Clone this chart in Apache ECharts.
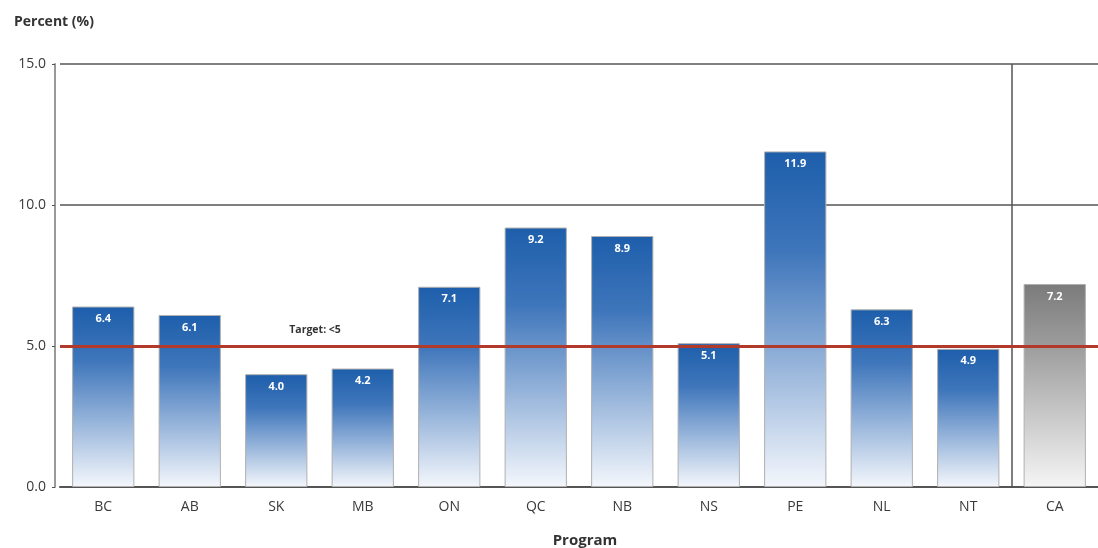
<!DOCTYPE html>
<html>
<head>
<meta charset="utf-8">
<script src="https://cdn.jsdelivr.net/npm/echarts@6/dist/echarts.min.js"></script>
<style>
html,body{margin:0;padding:0;background:#fff;}
#chart{width:1098px;height:548px;}
</style>
</head>
<body>
<div id="chart"></div>
<script>
const categories = ['BC','AB','SK','MB','ON','QC','NB','NS','PE','NL','NT','CA'];
const values = [6.4, 6.1, 4.0, 4.2, 7.1, 9.2, 8.9, 5.1, 11.9, 6.3, 4.9, 7.2];
const nationalCategory = 'CA';
const targetValue = 5;
const targetLabel = 'Target: <5';
const separatorPosition = 10.5; // between NT and CA
const yTicks = [0, 5, 10, 15];

const FONT = '"Open Sans", "Noto Sans", sans-serif';

const blueGrad = new echarts.graphic.LinearGradient(0, 0, 0, 1, [
  {offset: 0, color: '#1d5eab'},
  {offset: 0.3, color: '#3f76bb'},
  {offset: 1, color: '#f4f7fc'}
]);
const greyGrad = new echarts.graphic.LinearGradient(0, 0, 0, 1, [
  {offset: 0, color: '#7b7b7b'},
  {offset: 0.3, color: '#9c9c9c'},
  {offset: 1, color: '#f5f5f5'}
]);

const barData = values.map((v, i) => ({
  value: v,
  itemStyle: {color: categories[i] === nationalCategory ? greyGrad : blueGrad}
}));

const chart = echarts.init(document.getElementById('chart'), null, {renderer: 'canvas'});
chart.setOption({
  animation: false,
  backgroundColor: '#fff',
  grid: {left: 60, right: -3, top: 64, bottom: 61, containLabel: false},
  title: [
    {text: 'Percent (%)', left: 9, top: 10, textStyle: {fontFamily: FONT, fontSize: 14, fontWeight: 'bold', color: '#333'}},
    {text: 'Program', left: 580, top: 528, textAlign: 'center', textStyle: {fontFamily: FONT, fontSize: 15, fontWeight: 'bold', color: '#333'}}
  ],
  xAxis: [
    {
      type: 'category',
      data: categories,
      boundaryGap: true,
      axisLine: {show: true, lineStyle: {color: '#555', width: 2}},
      axisTick: {show: false},
      axisLabel: {fontFamily: FONT, fontSize: 14, color: '#3a3a3a', margin: 13},
      splitLine: {show: false}
    },
    {
      type: 'value',
      min: -0.5,
      max: categories.length - 0.5,
      show: false
    }
  ],
  yAxis: {
    type: 'value',
    min: yTicks[0],
    max: yTicks[yTicks.length - 1],
    interval: 5,
    offset: 5,
    axisLine: {show: true, onZero: false, lineStyle: {color: '#999', width: 2}},
    axisTick: {show: true, length: 3, lineStyle: {color: '#555'}},
    axisLabel: {fontFamily: FONT, fontSize: 14, color: '#3a3a3a', margin: 9, formatter: v => v.toFixed(1)},
    splitLine: {show: true, lineStyle: {color: '#555', width: 1.5}}
  },
  series: [
    {
      type: 'bar',
      xAxisIndex: 0,
      data: barData,
      barWidth: '72%',
      itemStyle: {borderColor: '#b0b0b0', borderWidth: 1},
      label: {
        show: true, position: 'insideTop', distance: 7,
        fontFamily: FONT, fontSize: 11, fontWeight: 'bold', color: '#fff',
        formatter: p => p.value.toFixed(1)
      },
      markLine: {
        silent: true, symbol: 'none',
        lineStyle: {color: '#b23a2a', width: 3, type: 'solid'},
        label: {show: false},
        data: [{yAxis: targetValue}],
        z: 10
      },
      markPoint: {
        silent: true,
        symbol: 'circle', symbolSize: 0,
        label: {
          show: true, formatter: targetLabel, position: 'right', offset: [8, -16],
          fontFamily: FONT, fontSize: 10.5, fontWeight: 'bold', color: '#333'
        },
        data: [{coord: ['SK', targetValue]}]
      }
    },
    {
      type: 'line',
      xAxisIndex: 1,
      data: [],
      markLine: {
        silent: true, symbol: 'none',
        lineStyle: {color: '#555', width: 1.5, type: 'solid'},
        label: {show: false},
        data: [{xAxis: separatorPosition}]
      }
    }
  ]
});
</script>
</body>
</html>
